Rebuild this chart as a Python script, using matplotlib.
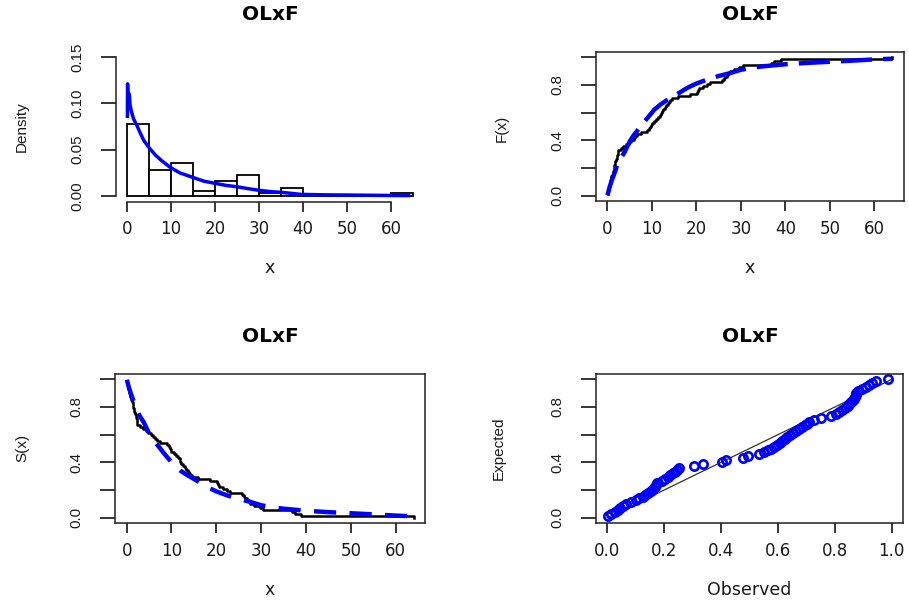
import numpy as np
import matplotlib
matplotlib.use("Agg")
import matplotlib.pyplot as plt

# ---------------- data ----------------
title = "OLxF"

# sorted sample (n = 72)
data = [0.05, 0.1, 0.2, 0.3, 0.4, 0.5, 0.6, 0.7, 0.8, 0.9, 1.0,
        1.2, 1.3, 1.4, 1.5, 1.6, 1.7, 1.8,
        2.0, 2.1, 2.2, 2.3, 2.35, 2.4,
        3.0, 3.6, 4.3, 4.8,
        5.4, 5.9, 6.3, 6.7, 7.5, 9.0, 9.4, 9.6, 9.8, 9.95,
        10.5, 11.0, 11.5, 11.8, 12.0, 12.2, 12.6, 13.0, 13.3, 13.6, 13.8, 14.1, 14.5,
        16.0, 18.5,
        20.2, 20.4, 20.6, 21.5, 22.3, 23.0,
        25.8, 26.2, 26.5, 26.8, 27.2, 27.5, 28.5, 29.7,
        30.5,
        36.8, 37.5, 39.0,
        64.0]

bin_edges = [0, 5, 10, 15, 20, 25, 30, 35, 40, 45, 50, 55, 60, 65]

# fitted density curve
dens_x = [0.08, 0.12, 0.3, 0.5, 0.7, 1.0, 1.5, 2.2, 3.0, 3.8, 5.2, 6.5, 7.9, 9.8,
          12.0, 15.0, 17.5, 20.0, 22.5, 25.0, 27.5, 30.0, 32.5, 35.0, 37.5, 39.5,
          45.0, 52.0, 58.0, 64.0]
dens_y = [0.086, 0.121, 0.097, 0.110, 0.098, 0.091, 0.083, 0.0766, 0.068, 0.060,
          0.051, 0.044, 0.038, 0.031, 0.025, 0.020, 0.016, 0.0137, 0.0115, 0.010,
          0.008, 0.0062, 0.0048, 0.004, 0.0028, 0.0018, 0.0013, 0.0010, 0.0007, 0.0005]

# fitted CDF curve
fit_x = [0.05, 0.5, 1.0, 1.7, 2.2, 3.0, 3.8, 5.0, 6.0, 7.0, 8.2, 9.5, 10.5, 12.0,
         13.4, 15.0, 16.5, 18.0, 20.0, 22.5, 25.0, 27.5, 30.0, 32.5, 35.0, 40.0,
         45.0, 50.0, 55.0, 60.0, 64.0]
fit_cdf = [0.003, 0.06, 0.11, 0.17, 0.22, 0.27, 0.31, 0.39, 0.44, 0.48, 0.53, 0.58,
           0.62, 0.66, 0.69, 0.72, 0.75, 0.78, 0.81, 0.84, 0.865, 0.885, 0.91, 0.925,
           0.935, 0.95, 0.96, 0.968, 0.976, 0.985, 0.99]

# fitted CDF at each sorted observation (P-P plot, x axis)
pp_fitted = [0.002, 0.013, 0.027, 0.036, 0.046, 0.055, 0.067, 0.084, 0.102, 0.113,
             0.124, 0.134, 0.144, 0.153, 0.161, 0.168, 0.171, 0.174, 0.192, 0.204,
             0.213, 0.222, 0.230, 0.238, 0.245, 0.252, 0.305, 0.335, 0.405, 0.418,
             0.478, 0.495, 0.535, 0.550, 0.565, 0.574, 0.585, 0.597, 0.606, 0.615,
             0.624, 0.632, 0.641, 0.652, 0.663, 0.674, 0.685, 0.694, 0.702, 0.710,
             0.725, 0.752, 0.785, 0.805, 0.815, 0.825, 0.836, 0.845, 0.851, 0.858,
             0.864, 0.868, 0.871, 0.873, 0.876, 0.882, 0.895, 0.908, 0.920, 0.932,
             0.945, 0.986]

ref_line = [0.0, 1.0]

x_ticks = [0, 10, 20, 30, 40, 50, 60]
dens_ticks = [0.00, 0.05, 0.10, 0.15]
dens_tick_labels = ["0.00", "0.05", "0.10", "0.15"]
prob_ticks = [0.0, 0.2, 0.4, 0.6, 0.8, 1.0]
prob_tick_labels = ["0.0", "", "0.4", "", "0.8", ""]
pp_x_ticks = [0.0, 0.2, 0.4, 0.6, 0.8, 1.0]
pp_x_labels = ["0.0", "0.2", "0.4", "0.6", "0.8", "1.0"]

# ---------------- derived ----------------
data = np.asarray(data)
n = len(data)
ecdf_y = np.arange(1, n + 1) / n
fit_cdf_a = np.asarray(fit_cdf)

# ---------------- figure ----------------
W, H = 909, 607
fig = plt.figure(figsize=(W / 100, H / 100), dpi=100)
fig.patch.set_facecolor("white")

TXT = "#1a1a1a"
HFONT = "DejaVu Sans"
VFONT = "Liberation Sans"


def add(l, t, r, b):
    return fig.add_axes([l / W, 1 - b / H, (r - l) / W, (b - t) / H])


def style(ax, xt, xl, yt, yl):
    ax.set_xticks(xt)
    ax.set_xticklabels(xl, fontfamily=HFONT, fontsize=12, color=TXT)
    ax.set_yticks(yt)
    ax.set_yticklabels(yl, fontfamily=VFONT, fontsize=10.8, color=TXT,
                       rotation=90, va="center")
    ax.tick_params(axis="x", direction="out", length=7.2, width=1.1, pad=6)
    ax.tick_params(axis="y", direction="out", length=10.8, width=1.1, pad=12)
    for s in ax.spines.values():
        s.set_linewidth(1.1)
        s.set_color("#222222")


def ftext(x, y, s, rot=0, bold=False, size=12.5, fam=HFONT):
    fig.text(x / W, 1 - y / H, s, ha="center", va="center", rotation=rot,
             fontsize=size, fontweight="bold" if bold else "normal",
             fontfamily=fam, color="black" if bold else TXT)


# Panel 1: histogram + density
ax1 = add(115.6, 51.4, 424.4, 201.6)
ax1.hist(data, bins=bin_edges, density=True, facecolor="white",
         edgecolor="black", linewidth=1.3)
ax1.plot(dens_x, dens_y, color="#0000ff", lw=2.5, solid_joinstyle="round")
ax1.set_xlim(-2.6, 67.6)
ax1.set_ylim(-0.006, 0.156)
style(ax1, x_ticks, [str(v) for v in x_ticks], dens_ticks, dens_tick_labels)
ax1.spines["top"].set_visible(False)
ax1.spines["right"].set_visible(False)
ax1.spines["left"].set_bounds(0, 0.15)
ax1.spines["bottom"].set_bounds(0, 60)

# Panel 2: CDF
ax2 = add(595.9, 51.8, 903.5, 201.2)
ax2.step(data, ecdf_y, where="post", color="black", lw=1.8)
ax2.plot(fit_x, fit_cdf_a, color="#0000ff", lw=3.2, ls=(0, (7, 2.5)))
ax2.set_xlim(-2.56, 66.56)
ax2.set_ylim(-0.04, 1.04)
style(ax2, x_ticks, [str(v) for v in x_ticks], prob_ticks, prob_tick_labels)

# Panel 3: survival
ax3 = add(115.2, 373.8, 425.0, 523.2)
ax3.step(data, 1 - ecdf_y, where="post", color="black", lw=1.8)
ax3.plot(fit_x, 1 - fit_cdf_a, color="#0000ff", lw=3.2, ls=(0, (5, 3)))
ax3.set_xlim(-2.56, 66.56)
ax3.set_ylim(-0.04, 1.04)
style(ax3, x_ticks, [str(v) for v in x_ticks], prob_ticks, prob_tick_labels)

# Panel 4: P-P plot
ax4 = add(595.9, 373.8, 903.1, 523.2)
ax4.plot(ref_line, ref_line, color="#333333", lw=0.9)
ax4.plot(pp_fitted, ecdf_y, "o", mfc="none", mec="#0000ff", ms=6, mew=1.9)
ax4.set_xlim(-0.04, 1.04)
ax4.set_ylim(-0.04, 1.04)
style(ax4, pp_x_ticks, pp_x_labels, prob_ticks, prob_tick_labels)

# titles and axis labels
ftext(270, 15, title, bold=True, size=14.5)
ftext(750, 15, title, bold=True, size=14.5)
ftext(270, 337, title, bold=True, size=14.5)
ftext(750, 337, title, bold=True, size=14.5)

ftext(270, 268, "x")
ftext(750, 268, "x")
ftext(270, 590, "x")
ftext(749, 590, "Observed")

ftext(22, 127, "Density", rot=90, size=11, fam=VFONT)
ftext(502, 128, "F(x)", rot=90, size=11, fam=VFONT)
ftext(22, 448, "S(x)", rot=90, size=11, fam=VFONT)
ftext(499, 448, "Expected", rot=90, size=11, fam=VFONT)

fig.savefig("out.png", dpi=100, facecolor="white")
